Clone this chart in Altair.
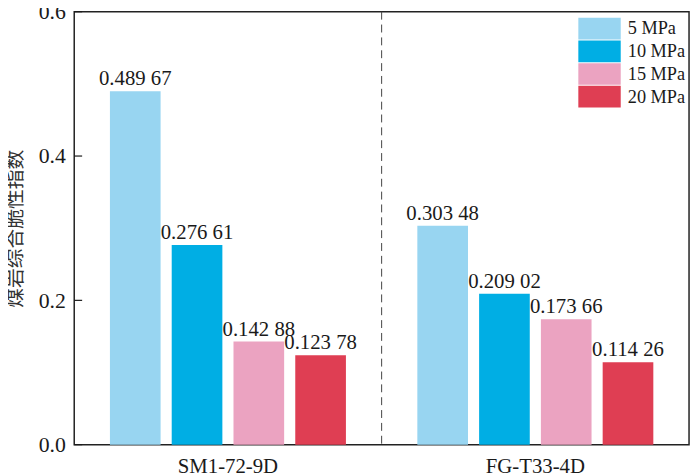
import altair as alt
import pandas as pd

wells = ["SM1-72-9D", "FG-T33-4D"]
pressures = ["5 MPa", "10 MPa", "15 MPa", "20 MPa"]
values_sm1 = [0.48967, 0.27661, 0.14288, 0.12378]
values_fg = [0.30348, 0.20902, 0.17366, 0.11426]
labels_sm1 = ["0.489 67", "0.276 61", "0.142 88", "0.123 78"]
labels_fg = ["0.303 48", "0.209 02", "0.173 66", "0.114 26"]
colors = ["#98D5F1", "#00AEE4", "#EBA3C1", "#DF3E53"]
y_ticks = [0.0, 0.2, 0.4, 0.6]

rows = []
for w, vals, labs in [(wells[0], values_sm1, labels_sm1), (wells[1], values_fg, labels_fg)]:
    for p, v, l in zip(pressures, vals, labs):
        rows.append({"well": w, "pressure": p, "value": v, "label": l})
df = pd.DataFrame(rows)
sep_df = pd.DataFrame({"well": [wells[1]]})
tick_df = pd.DataFrame({"v": y_ticks})

serif = "Liberation Serif"
ink = "#1a1a1a"

x_enc = alt.X(
    "well:N",
    sort=wells,
    scale=alt.Scale(paddingInner=0, paddingOuter=0),
    axis=alt.Axis(
        title=None, labelAngle=0, ticks=False, domain=False,
        labelFont=serif, labelFontSize=21, labelColor=ink, labelPadding=11,
    ),
)
xoff = alt.XOffset("pressure:N", sort=pressures,
                   scale=alt.Scale(paddingInner=0.18, paddingOuter=0.578))
y_enc = alt.Y(
    "value:Q",
    scale=alt.Scale(domain=[0, 0.6], nice=False, zero=True),
    axis=alt.Axis(
        title="煤岩综合脆性指数", values=y_ticks, format=".1f",
        ticks=False, domain=False, grid=False,
        labelFont=serif, labelFontSize=22, labelColor=ink, labelPadding=9,
        titleFont="Noto Sans CJK SC", titleFontSize=20, titleFontWeight="normal",
        titleColor="#333333", titlePadding=13,
    ),
)

bars = alt.Chart(df).mark_bar().encode(
    x=x_enc,
    xOffset=xoff,
    y=y_enc,
    color=alt.Color(
        "pressure:N",
        sort=pressures,
        scale=alt.Scale(domain=pressures, range=colors),
        legend=alt.Legend(
            title=None, orient="none", legendX=510, legendY=6,
            symbolType="M-1,-1H2.9V1H-1Z", symbolSize=484, symbolStrokeWidth=0,
            labelFont=serif, labelFontSize=18.5, labelColor=ink, labelOffset=28,
            rowPadding=1, padding=0,
        ),
    ),
)

texts = alt.Chart(df).mark_text(
    baseline="alphabetic", dy=-6, font=serif, fontSize=21, color=ink
).encode(
    x=alt.X("well:N", sort=wells),
    xOffset=xoff,
    y=alt.Y("value:Q"),
    text="label:N",
)

sep = alt.Chart(sep_df).mark_rule(
    strokeDash=[8, 5], color="#444444", strokeWidth=1
).encode(x=alt.X("well:N", sort=wells, bandPosition=0))

ticks = alt.Chart(tick_df).mark_rule(color=ink, strokeWidth=1.2).encode(
    y=alt.Y("v:Q"), x=alt.value(0), x2=alt.value(8)
)

chart = alt.layer(bars, texts, sep, ticks).properties(
    width=622, height=438,
    autosize=alt.AutoSizeParams(type="none"),
    padding={"left": 67, "top": 1, "right": 3, "bottom": 35},
    background="white",
    view=alt.ViewBackground(stroke="#222222", strokeWidth=1.5),
).configure_view(stroke="#222222", strokeWidth=1.5)

chart.save("out.html", embed_options={"renderer": "svg", "actions": False})
